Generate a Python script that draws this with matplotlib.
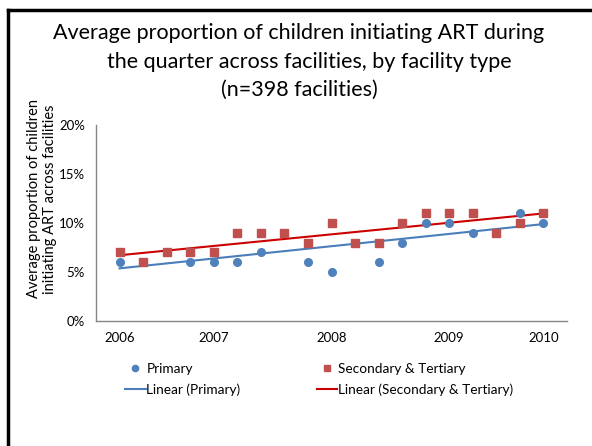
import matplotlib
matplotlib.use("Agg")
import matplotlib.pyplot as plt
import numpy as np
from matplotlib.lines import Line2D

plt.rcParams['font.family'] = ['Lato', 'DejaVu Sans']

# quarters (category positions), labels only on some of them
quarters = list(range(19))
tick_pos = [0, 4, 9, 14, 18]
tick_labels = ["2006", "2007", "2008", "2009", "2010"]

# % of children initiating ART
primary = [6, 6, 7, 6, 6, 6, 7, 9, 6, 5, 8, 6, 8, 10, 10, 9, 9, 11, 10]
secondary = [7, 6, 7, 7, 7, 9, 9, 9, 8, 10, 8, 8, 10, 11, 11, 11, 9, 10, 11]

blue = "#4F81BD"
red = "#C0504D"

fig = plt.figure(figsize=(5.92, 4.46), dpi=100)
ax = fig.add_axes([96/592, 1 - 321/446, (567 - 96)/592, (321 - 125)/446])

x = np.array(quarters)
ax.plot(x, primary, 'o', color=blue, markersize=5.5, zorder=3)
ax.plot(x, secondary, 's', color=red, markersize=5.5, zorder=4)

# linear trendlines
p1 = np.polyfit(x, primary, 1)
p2 = np.polyfit(x, secondary, 1)
ax.plot(x[[0, -1]], np.polyval(p1, x[[0, -1]]), color="#4A7EBB", lw=1.5, zorder=2)
ax.plot(x[[0, -1]], np.polyval(p2, x[[0, -1]]), color="#CC0000", lw=1.5, zorder=2)

ax.set_xlim(-1, 19)
ax.set_ylim(0, 20)
ax.set_yticks([0, 5, 10, 15, 20])
ax.set_yticklabels(["0%", "5%", "10%", "15%", "20%"])
ax.set_xticks(tick_pos)
ax.set_xticklabels(tick_labels)
ax.tick_params(length=0, labelsize=9.5, pad=8)
for s in ["top", "right"]:
    ax.spines[s].set_visible(False)
for s in ["left", "bottom"]:
    ax.spines[s].set_color("#868686")
    ax.spines[s].set_linewidth(1)

fig.text(0.071, 1 - 199/446, "Average proportion of children\ninitiating ART across facilities",
         rotation=90, ha="center", va="center", fontsize=10.5, linespacing=1.25)

fig.text(0.505, 1 - 33/446, "Average proportion of children initiating ART during",
         ha="center", va="center", fontsize=15.5)
fig.text(0.522, 1 - 62/446, "the quarter across facilities, by facility type",
         ha="center", va="center", fontsize=15.5)
fig.text(0.505, 1 - 90/446, "(n=398 facilities)",
         ha="center", va="center", fontsize=15.5)

handles = [
    Line2D([], [], marker='o', ls='none', color=blue, markersize=4.5),
    Line2D([], [], color="#4A7EBB", lw=1.5),
    Line2D([], [], marker='s', ls='none', color=red, markersize=4.5),
    Line2D([], [], color="#CC0000", lw=1.5),
]
labels = ["Primary", "Linear (Primary)", "Secondary & Tertiary", "Linear (Secondary & Tertiary)"]
fig.legend(handles, labels, ncol=2, frameon=False, fontsize=9.8,
           loc="upper left", bbox_to_anchor=(113/592, 1 - 351/446),
           handlelength=1.5, handletextpad=0.05, columnspacing=5.6, labelspacing=0.6)

# slide frame (left and top)
fig.add_artist(Line2D([8/592, 8/592], [0, 1 - 10/446], color="black", lw=2.5, transform=fig.transFigure))
fig.add_artist(Line2D([8/592, 1], [1 - 10/446, 1 - 10/446], color="black", lw=2.5, transform=fig.transFigure))

fig.savefig("out.png", dpi=100)
